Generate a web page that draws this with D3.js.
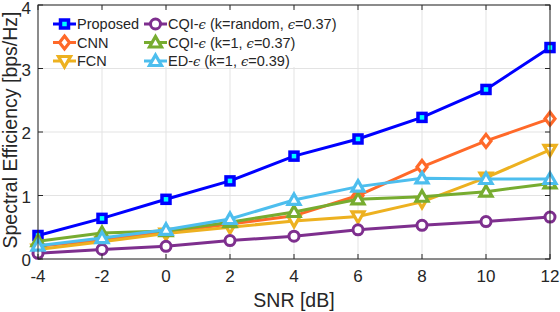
<!DOCTYPE html>
<html>
<head>
<meta charset="utf-8">
<script src="https://cdn.jsdelivr.net/npm/d3@7"></script>
<style>
  body { margin: 0; background: #fff; }
  text { font-family: "Liberation Sans", Arial, sans-serif; fill: #262626; }
</style>
</head>
<body>
<div id="chart"></div>
<script>
var snr = [-4, -2, 0, 2, 4, 6, 8, 10, 12];
var proposed = [0.37, 0.64, 0.94, 1.23, 1.62, 1.89, 2.23, 2.67, 3.33];
var cnn      = [0.20, 0.30, 0.42, 0.55, 0.68, 1.00, 1.45, 1.86, 2.21];
var fcn      = [0.15, 0.27, 0.40, 0.50, 0.60, 0.67, 0.90, 1.28, 1.72];
var cqiRand  = [0.09, 0.15, 0.20, 0.29, 0.36, 0.46, 0.53, 0.59, 0.66];
var cqiK1    = [0.28, 0.41, 0.44, 0.58, 0.74, 0.94, 0.98, 1.06, 1.19];
var edK1     = [0.21, 0.33, 0.46, 0.63, 0.93, 1.14, 1.27, 1.26, 1.26];
var xTicks = [-4, -2, 0, 2, 4, 6, 8, 10, 12];
var yTicks = [0, 1, 2, 3, 4];

var series = [
  {name: "Proposed", values: proposed, color: "#0000ff", marker: "square"},
  {name: "CNN", values: cnn, color: "#ff6929", marker: "diamond"},
  {name: "FCN", values: fcn, color: "#edb120", marker: "down"},
  {name: "CQI-|ϵ| (k=random, |ϵ|=0.37)", values: cqiRand, color: "#7e2f8e", marker: "circle"},
  {name: "CQI-|ϵ| (k=1, |ϵ|=0.37)", values: cqiK1, color: "#77ac30", marker: "up"},
  {name: "ED-|ϵ| (k=1, |ϵ|=0.39)", values: edK1, color: "#4dbeee", marker: "up"}
];

var width = 560, height = 312;
var padding = {left: 38, right: 10, top: 5, bottom: 53};

var svg = d3.select("#chart").append("svg")
  .attr("width", width).attr("height", height);

var xScale = d3.scaleLinear().domain([-4, 12]).range([padding.left, width - padding.right]);
var yScale = d3.scaleLinear().domain([0, 4]).range([height - padding.bottom, padding.top]);

// grid
svg.append("g").selectAll("line").data(xTicks).enter().append("line")
  .attr("x1", d => xScale(d)).attr("x2", d => xScale(d))
  .attr("y1", yScale(0)).attr("y2", yScale(4))
  .attr("stroke", "#e3e3e3").attr("stroke-width", 1);
svg.append("g").selectAll("line").data(yTicks).enter().append("line")
  .attr("y1", d => yScale(d)).attr("y2", d => yScale(d))
  .attr("x1", xScale(-4)).attr("x2", xScale(12))
  .attr("stroke", "#e3e3e3").attr("stroke-width", 1);

function markerPath(type) {
  if (type == "diamond") return "M0,-6.5L5,0L0,6.5L-5,0Z";
  if (type == "up") return "M0,-6L6,4.5L-6,4.5Z";
  if (type == "down") return "M0,6L6,-4.5L-6,-4.5Z";
  return null;
}

function drawMarker(g, type, color) {
  if (type == "square") {
    g.append("rect").attr("x", -4).attr("y", -4).attr("width", 8).attr("height", 8)
      .attr("fill", "#00ffff").attr("stroke", color).attr("stroke-width", 3.5);
  } else if (type == "circle") {
    g.append("circle").attr("r", 5).attr("fill", "#fff")
      .attr("stroke", color).attr("stroke-width", 3);
  } else {
    g.append("path").attr("d", markerPath(type)).attr("fill", "#fff")
      .attr("stroke", color).attr("stroke-width", 3.2).attr("stroke-linejoin", "miter");
  }
}

var line = d3.line().x((d, i) => xScale(snr[i])).y(d => yScale(d));

var plot = svg.append("g");
series.forEach(function(s) {
  plot.append("path").datum(s.values)
    .attr("d", line).attr("fill", "none")
    .attr("stroke", s.color).attr("stroke-width", 3);
  s.values.forEach(function(v, i) {
    var g = plot.append("g").attr("transform", "translate(" + xScale(snr[i]) + "," + yScale(v) + ")");
    drawMarker(g, s.marker, s.color);
  });
});

// legend, two columns filled top to bottom
var legend = svg.append("g");
legend.append("rect").attr("x", 41).attr("y", 8).attr("width", 305).attr("height", 59)
  .attr("fill", "#fff");
series.forEach(function(s, i) {
  var col = Math.floor(i / 3), row = i % 3;
  var lx = col == 0 ? 53 : 144;
  var ly = 24 + row * 18.5;
  legend.append("line").attr("x1", lx).attr("x2", lx + 23).attr("y1", ly).attr("y2", ly)
    .attr("stroke", s.color).attr("stroke-width", 3);
  var g = legend.append("g").attr("transform", "translate(" + (lx + 11.5) + "," + ly + ")");
  drawMarker(g, s.marker, s.color);
  var t = legend.append("text").attr("x", lx + 24).attr("y", ly + 5).attr("font-size", 14.5);
  // parts between | are the italic epsilon
  s.name.split("|").forEach(function(part, k) {
    t.append("tspan").text(part).attr("font-style", k % 2 ? "italic" : "normal")
      .attr("font-family", k % 2 ? "'DejaVu Serif', serif" : null)
      .attr("font-size", k % 2 ? 13 : null);
  });
});

// axes box
var axis = svg.append("g").attr("class", "axis");
axis.append("rect").attr("x", xScale(-4)).attr("y", yScale(4))
  .attr("width", xScale(12) - xScale(-4)).attr("height", yScale(0) - yScale(4))
  .attr("fill", "none").attr("stroke", "#262626").attr("stroke-width", 1);

xTicks.forEach(function(d) {
  axis.append("line").attr("x1", xScale(d)).attr("x2", xScale(d))
    .attr("y1", yScale(0)).attr("y2", yScale(0) - 5).attr("stroke", "#262626");
  axis.append("line").attr("x1", xScale(d)).attr("x2", xScale(d))
    .attr("y1", yScale(4)).attr("y2", yScale(4) + 5).attr("stroke", "#262626");
  axis.append("text").attr("x", xScale(d)).attr("y", yScale(0) + 23)
    .attr("text-anchor", "middle").attr("font-size", 17).text(d);
});
yTicks.forEach(function(d) {
  axis.append("line").attr("x1", xScale(-4)).attr("x2", xScale(-4) + 5)
    .attr("y1", yScale(d)).attr("y2", yScale(d)).attr("stroke", "#262626");
  axis.append("line").attr("x1", xScale(12)).attr("x2", xScale(12) - 5)
    .attr("y1", yScale(d)).attr("y2", yScale(d)).attr("stroke", "#262626");
  axis.append("text").attr("x", xScale(-4) - 7).attr("y", Math.max(yScale(d) + 7, 13.5))
    .attr("text-anchor", "end").attr("font-size", 17).text(d);
});

svg.append("text").attr("x", xScale(4)).attr("y", 307)
  .attr("text-anchor", "middle").attr("font-size", 19.5).text("SNR [dB]");
svg.append("text").attr("transform", "translate(17," + 130 + ") rotate(-90)")
  .attr("text-anchor", "middle").attr("font-size", 19.5).text("Spectral Efficiency [bps/Hz]");
</script>
</body>
</html>
